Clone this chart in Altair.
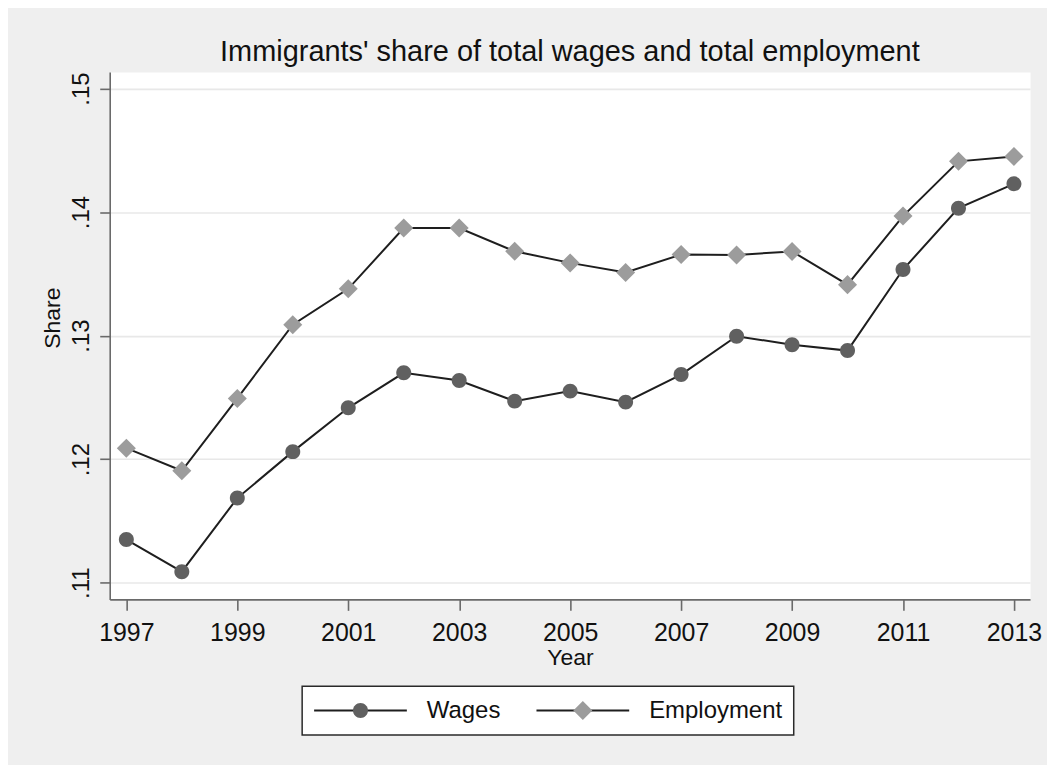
import altair as alt
import pandas as pd

years = list(range(1997, 2014))
wages = [0.11349, 0.11089, 0.11685, 0.12061, 0.12416, 0.12699, 0.12637, 0.12470,
         0.12551, 0.12462, 0.12685, 0.12995, 0.12927, 0.12879, 0.13535, 0.14032, 0.14229]
employment = [0.12089, 0.11906, 0.12492, 0.13089, 0.13379, 0.13871, 0.13871, 0.13683,
              0.13589, 0.13512, 0.13656, 0.13653, 0.13682, 0.13413, 0.13968, 0.14411, 0.14451]
series_names = ["Wages", "Employment"]
y_ticks = [0.11, 0.12, 0.13, 0.14, 0.15]
x_ticks = list(range(1997, 2014, 2))

rows = []
for name, vals in zip(series_names, [wages, employment]):
    for yr, v in zip(years, vals):
        rows.append({"Year": yr, "Share": v, "Series": name, "LineSeries": name})
df = pd.DataFrame(rows)

FONT = "Liberation Sans"
SYM = 8649  # sqrt = 93 px (legend line length)
circle_path = "M0.1613,0 A0.1613,0.1613 0 1,1 -0.1613,0 A0.1613,0.1613 0 1,1 0.1613,0 Z"
diamond_path = "M0,-0.205 L0.205,0 L0,0.205 L-0.205,0 Z"

common_legend = dict(
    orient="none", legendX=193, legendY=616, direction="horizontal", columns=2,
    symbolSize=SYM, symbolStrokeWidth=2, labelFontSize=24, labelFont=FONT,
    labelOffset=19, columnPadding=35, clipHeight=27, padding=11, title=None,
)

x_enc = alt.X("Year:Q", scale=alt.Scale(domain=[1996.70, 2013.29], nice=False, zero=False),
              axis=alt.Axis(values=x_ticks, format="d", title="Year", grid=False,
                            labelFontSize=25, tickSize=11, labelPadding=10,
                            labelBaseline="top", titleFontSize=23,
                            titleBaseline="alphabetic", titleY=65))
y_enc = alt.Y("Share:Q", scale=alt.Scale(domain=[0.10865, 0.15135], nice=False, zero=False),
              axis=alt.Axis(values=y_ticks, title="Share", grid=True,
                            labelExpr="replace(format(datum.value, '.2f'), '0.', '.')",
                            labelAngle=270, labelAlign="center", labelBaseline="alphabetic",
                            labelFontSize=24, tickSize=10, labelPadding=11,
                            titleFontSize=23, titleAngle=270, titleAlign="center",
                            titleBaseline="alphabetic", titleX=-50, titleY=246.5))

lines = alt.Chart(df).mark_line(strokeWidth=2).encode(
    x=x_enc, y=y_enc,
    stroke=alt.Stroke("LineSeries:N", sort=series_names,
                      scale=alt.Scale(range=["#1e1e1e", "#1e1e1e"]),
                      legend=alt.Legend(symbolType="stroke", fillColor="white",
                                        strokeColor="#2a2a2a", **common_legend)),
)

points = alt.Chart(df).mark_point(filled=True, size=SYM, opacity=1).encode(
    x=x_enc, y=y_enc,
    fill=alt.Fill("Series:N", scale=alt.Scale(domain=series_names, range=["#606060", "#9c9c9c"]),
                  legend=alt.Legend(labelOpacity=0, fillColor="transparent",
                                    strokeColor="transparent", **common_legend)),
    shape=alt.Shape("Series:N", scale=alt.Scale(domain=series_names, range=[circle_path, diamond_path]),
                    legend=alt.Legend(labelOpacity=0, fillColor="transparent",
                                      strokeColor="transparent", **common_legend)),
)

chart = alt.layer(lines, points).properties(
    width=923, height=529,
    title=alt.TitleParams("Immigrants' share of total wages and total employment",
                          fontSize=29, font=FONT, fontWeight="normal", color="#111111",
                          anchor="middle", frame="group", baseline="alphabetic", offset=-18),
    autosize=alt.AutoSizeParams(type="none"),
    padding={"left": 102, "top": 63, "right": 17, "bottom": 165},
    background="#efefef",
).configure_view(
    fill="white", stroke="transparent"
).configure_axis(
    labelFont=FONT, titleFont=FONT, labelColor="#111111", titleColor="#111111",
    titleFontWeight="normal", domainColor="#6a6a6a", domainWidth=1.6,
    tickColor="#6a6a6a", tickWidth=1.6, gridColor="#e8e8e8", gridWidth=1.6,
).configure_legend(
    strokeWidth=1.5, labelColor="#111111",
)

chart.save("out.html", embed_options={"renderer": "svg", "actions": False})
